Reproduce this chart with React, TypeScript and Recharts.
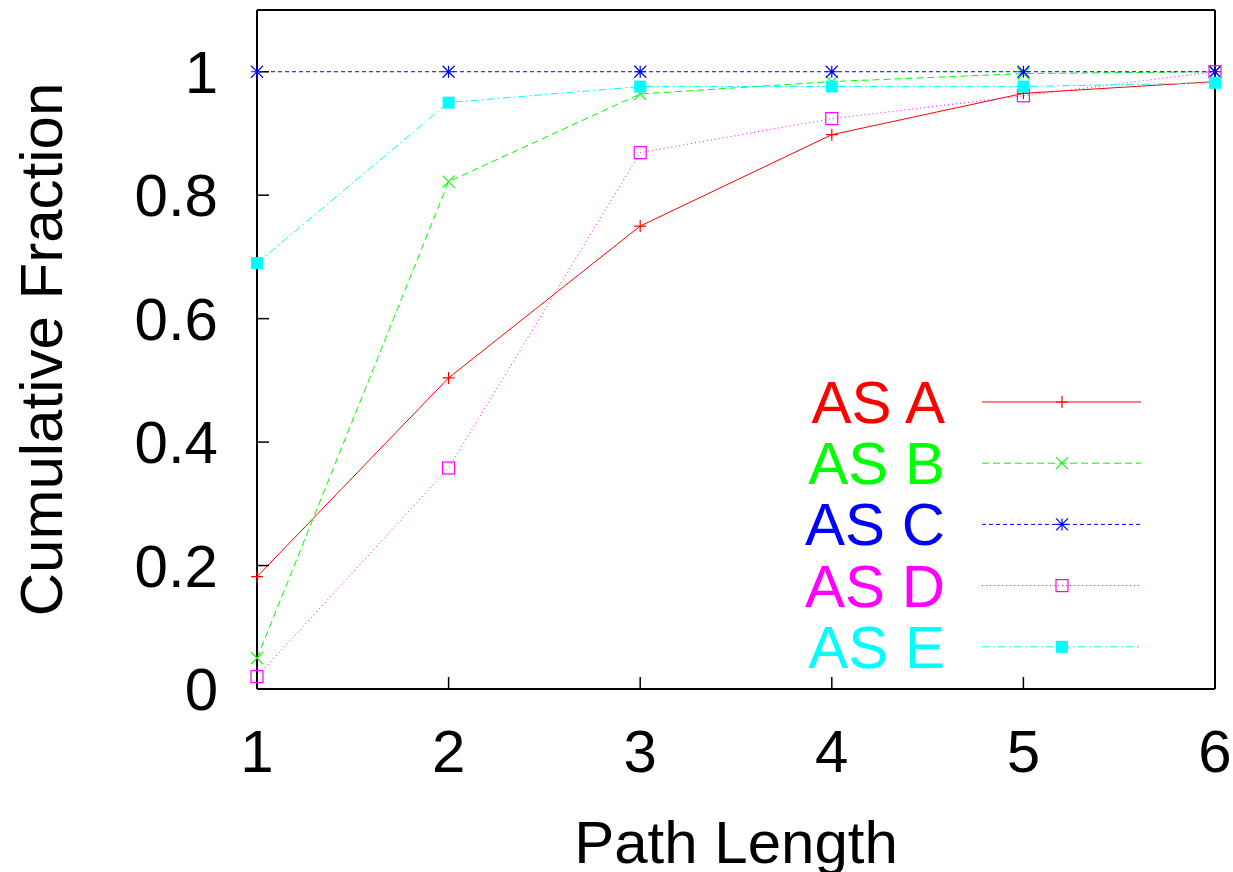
import React from 'react';
import { LineChart, Line, XAxis, YAxis } from 'recharts';

// Path length on the x axis, cumulative fraction per AS
const pathLengths = [1, 2, 3, 4, 5, 6];
const asA = [0.182, 0.504, 0.75, 0.898, 0.965, 0.984];
const asB = [0.05, 0.822, 0.964, 0.984, 0.997, 1.0];
const asC = [1.0, 1.0, 1.0, 1.0, 1.0, 1.0];
const asD = [0.02, 0.358, 0.869, 0.924, 0.961, 1.0];
const asE = [0.69, 0.95, 0.976, 0.976, 0.976, 0.982];

const xTicks = [1, 2, 3, 4, 5, 6];
const yTicks = [0, 0.2, 0.4, 0.6, 0.8, 1];

const FONT = '"Liberation Sans", Arial, Helvetica, sans-serif';

type Shape = 'plus' | 'cross' | 'star' | 'box' | 'fbox';

const SERIES: { key: string; name: string; color: string; dash?: string; shape: Shape }[] = [
  { key: 'a', name: 'AS A', color: '#ff0000', shape: 'plus' },
  { key: 'b', name: 'AS B', color: '#00ff00', dash: '7 4', shape: 'cross' },
  { key: 'c', name: 'AS C', color: '#0000ff', dash: '4 3', shape: 'star' },
  { key: 'd', name: 'AS D', color: '#ff00ff', dash: '1 3', shape: 'box' },
  { key: 'e', name: 'AS E', color: '#00ffff', dash: '8 3 2 3', shape: 'fbox' },
];

const data = pathLengths.map((len, i) => ({
  len,
  a: asA[i],
  b: asB[i],
  c: asC[i],
  d: asD[i],
  e: asE[i],
}));

const Marker = ({ cx, cy, shape, color }: { cx: number; cy: number; shape: Shape; color: string }) => {
  const s = 6;
  switch (shape) {
    case 'plus':
      return <path d={`M${cx - s},${cy}H${cx + s}M${cx},${cy - s}V${cy + s}`} stroke={color} strokeWidth={1.2} fill="none" />;
    case 'cross':
      return (
        <path
          d={`M${cx - s},${cy - s}L${cx + s},${cy + s}M${cx - s},${cy + s}L${cx + s},${cy - s}`}
          stroke={color}
          strokeWidth={1.2}
          fill="none"
        />
      );
    case 'star':
      return (
        <path
          d={`M${cx - s},${cy}H${cx + s}M${cx},${cy - s}V${cy + s}M${cx - s},${cy - s}L${cx + s},${cy + s}M${cx - s},${cy + s}L${cx + s},${cy - s}`}
          stroke={color}
          strokeWidth={1.2}
          fill="none"
        />
      );
    case 'box':
      return <rect x={cx - s} y={cy - s} width={2 * s} height={2 * s} stroke={color} strokeWidth={1.2} fill="none" />;
    default:
      return <rect x={cx - s} y={cy - s} width={2 * s} height={2 * s} fill={color} />;
  }
};

const YTitle = (props: any) => {
  const vb = props.viewBox || { x: 0, y: 0, width: 0, height: 0 };
  const x = vb.x + 62;
  const y = vb.y + vb.height / 2;
  return (
    <text x={x} y={y} transform={`rotate(-90, ${x}, ${y})`} textAnchor="middle" fontSize={60} fontFamily={FONT} fill="#000">
      Cumulative Fraction
    </text>
  );
};

const XTitle = (props: any) => {
  const vb = props.viewBox || { x: 0, y: 0, width: 0, height: 0 };
  return (
    <text x={vb.x + vb.width / 2} y={vb.y + 174} textAnchor="middle" fontSize={60} fontFamily={FONT} fill="#000">
      Path Length
    </text>
  );
};

// gnuplot-style key, drawn over the plot
const LegendBox = () => (
  <svg width={1233} height={872} style={{ position: 'absolute', left: 0, top: 0, pointerEvents: 'none' }}>
    {SERIES.map((s, i) => {
      const y = 402 + i * 61.2;
      return (
        <g key={s.key}>
          <text x={945} y={y + 21} textAnchor="end" fontSize={60} fontFamily={FONT} fill={s.color}>
            {s.name}
          </text>
          <line x1={982} x2={1141} y1={y} y2={y} stroke={s.color} strokeWidth={1} strokeDasharray={s.dash} />
          <Marker cx={1062} cy={y} shape={s.shape} color={s.color} />
        </g>
      );
    })}
  </svg>
);

const tickStyle = { fontSize: 60, fontFamily: FONT, fill: '#000' };
const axisLine = { stroke: '#000', strokeWidth: 2 };
const tickLine = { stroke: '#000', strokeWidth: 1.5 };

export default function App() {
  return (
    <div style={{ position: 'absolute', left: 0, top: 0, width: 1233, height: 872, background: '#fff' }}>
      <LineChart width={1233} height={872} data={data} margin={{ top: 0, right: 0, bottom: 0, left: 0 }}>
        <XAxis
          xAxisId="bottom"
          dataKey="len"
          type="number"
          domain={[1, 6]}
          ticks={xTicks}
          height={183}
          tickSize={-12}
          tickMargin={52}
          tick={tickStyle}
          axisLine={axisLine}
          tickLine={tickLine}
          label={<XTitle />}
        />
        <XAxis
          xAxisId="top"
          orientation="top"
          dataKey="len"
          type="number"
          domain={[1, 6]}
          ticks={xTicks}
          height={10}
          tickSize={-12}
          tick={false}
          axisLine={axisLine}
          tickLine={tickLine}
        />
        <YAxis
          yAxisId="left"
          type="number"
          domain={[0, 1.1]}
          ticks={yTicks}
          width={257}
          tickSize={-12}
          tickMargin={51}
          tick={tickStyle}
          tickFormatter={(v: number) => String(v)}
          axisLine={axisLine}
          tickLine={tickLine}
          label={<YTitle />}
        />
        <YAxis
          yAxisId="right"
          orientation="right"
          type="number"
          domain={[0, 1.1]}
          ticks={yTicks}
          width={18}
          tickSize={-12}
          tick={false}
          axisLine={axisLine}
          tickLine={tickLine}
        />
        {SERIES.map((s) => (
          <Line
            key={s.key}
            xAxisId="bottom"
            yAxisId="left"
            dataKey={s.key}
            name={s.name}
            type="linear"
            stroke={s.color}
            strokeWidth={1}
            strokeDasharray={s.dash}
            isAnimationActive={false}
            dot={(p: any) => (
              <g key={`${s.key}-${p.index}`}>
                <Marker cx={p.cx} cy={p.cy} shape={s.shape} color={s.color} />
              </g>
            )}
            activeDot={false}
          />
        ))}
      </LineChart>
      <LegendBox />
    </div>
  );
}
